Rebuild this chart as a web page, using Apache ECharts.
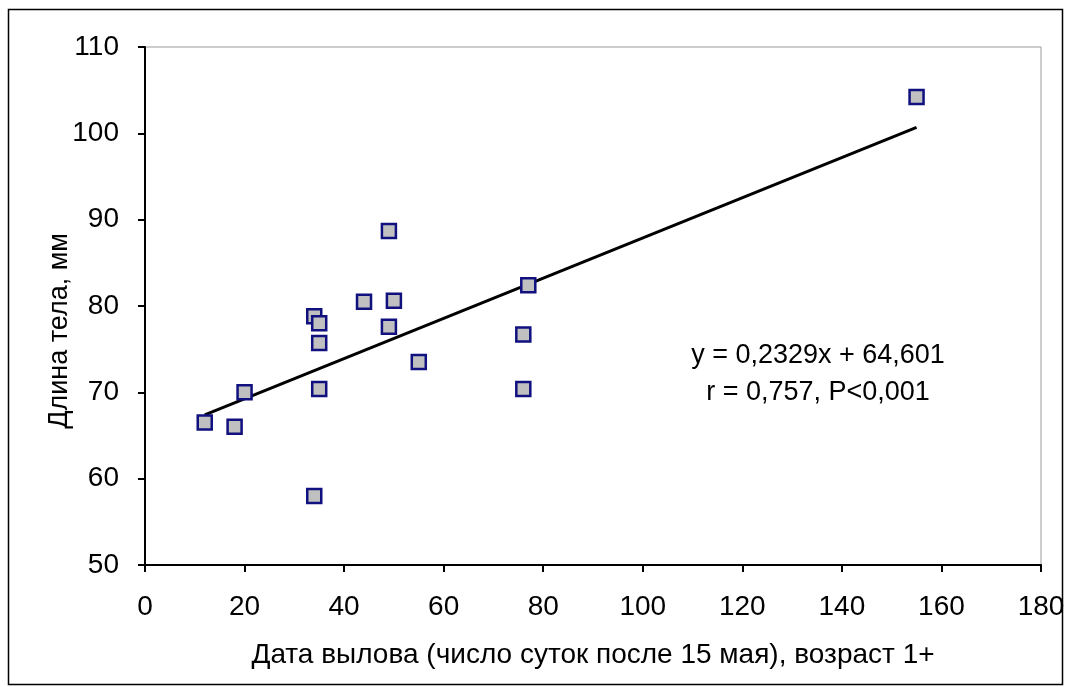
<!DOCTYPE html>
<html>
<head>
<meta charset="utf-8">
<script src="https://cdn.jsdelivr.net/npm/echarts@6/dist/echarts.min.js"></script>
<style>
html,body{margin:0;padding:0;background:#fff;}
#chart{width:1069px;height:687px;}
</style>
</head>
<body>
<div id="chart"></div>
<script>
// Data
const daysAfterMay15 = [12, 18, 20, 34, 34, 35, 35, 35, 44, 50, 49, 49, 55, 77, 76, 76, 155];
const bodyLengthMm  = [66.5, 66.0, 70.0, 58.0, 78.8, 78.0, 75.7, 70.4, 80.5, 80.6, 77.6, 88.7, 73.5, 82.4, 76.7, 70.4, 104.2];
const trendSlope = 0.2329;
const trendIntercept = 64.601;
const equationText = 'y = 0,2329x + 64,601';
const statsText = 'r = 0,757, P<0,001';
const xTitle = 'Дата вылова (число суток после 15 мая), возраст 1+';
const yTitle = 'Длина тела, мм';
const xTicks = [0, 20, 40, 60, 80, 100, 120, 140, 160, 180];
const yTicks = [50, 60, 70, 80, 90, 100, 110];

const points = daysAfterMay15.map((x, i) => [x, bodyLengthMm[i]]);
const xMinData = Math.min(...daysAfterMay15);
const xMaxData = Math.max(...daysAfterMay15);
const trendLine = [
  [xMinData, trendSlope * xMinData + trendIntercept],
  [xMaxData, trendSlope * xMaxData + trendIntercept]
];

const font = 'Liberation Sans, Arial, sans-serif';
const chart = echarts.init(document.getElementById('chart'), null, {renderer: 'canvas'});
chart.setOption({
  animation: false,
  backgroundColor: '#fff',
  grid: {left: 145, top: 47, right: 28, bottom: 122, show: true, borderColor: '#9a9a9a', borderWidth: 1, backgroundColor: 'transparent'},
  xAxis: {
    type: 'value', min: xTicks[0], max: xTicks[xTicks.length - 1], interval: 20,
    name: xTitle,
    nameLocation: 'middle', nameGap: 76,
    nameTextStyle: {fontFamily: font, fontSize: 28, color: '#000'},
    axisLine: {show: true, lineStyle: {color: '#000', width: 2}},
    axisTick: {show: true, length: 7, inside: false, lineStyle: {color: '#000', width: 2}},
    axisLabel: {fontFamily: font, fontSize: 28, color: '#000', margin: 28},
    splitLine: {show: false}
  },
  yAxis: {
    type: 'value', min: yTicks[0], max: yTicks[yTicks.length - 1], interval: 10,
    axisLine: {show: true, lineStyle: {color: '#000', width: 2}},
    axisTick: {show: true, length: 7, inside: false, lineStyle: {color: '#000', width: 2}},
    axisLabel: {fontFamily: font, fontSize: 28, color: '#000', margin: 26},
    splitLine: {show: false}
  },
  series: [
    {
      type: 'line', data: trendLine, symbol: 'none',
      lineStyle: {color: '#000', width: 3}, z: 2
    },
    {
      type: 'scatter', data: points, symbol: 'rect', symbolSize: 14,
      itemStyle: {color: '#c0c0c0', borderColor: '#10107f', borderWidth: 2.5, opacity: 1}, z: 3
    }
  ],
  graphic: [
    {type: 'rect', shape: {x: 8.5, y: 9.5, width: 1054, height: 675}, style: {fill: 'none', stroke: '#000', lineWidth: 1.5}, silent: true},
    {type: 'text', x: 60, y: 331, rotation: Math.PI / 2, style: {text: yTitle, font: '27px ' + font, fill: '#000', textAlign: 'center', textVerticalAlign: 'middle'}},
    {type: 'text', x: 818, y: 356, style: {text: equationText, font: '27px ' + font, fill: '#000', textAlign: 'center', textVerticalAlign: 'middle'}},
    {type: 'text', x: 818, y: 393, style: {text: statsText, font: '27px ' + font, fill: '#000', textAlign: 'center', textVerticalAlign: 'middle'}}
  ]
});
</script>
</body>
</html>
